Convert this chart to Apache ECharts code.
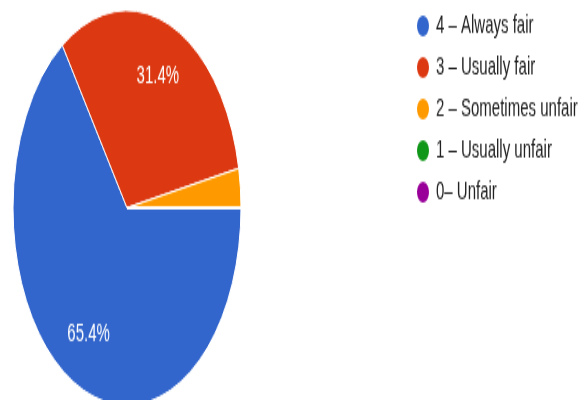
<!DOCTYPE html>
<html>
<head>
<meta charset="utf-8">
<script src="https://cdn.jsdelivr.net/npm/echarts@6/dist/echarts.min.js"></script>
<style>
  html, body { margin: 0; padding: 0; background: #fff; }
  #wrap { width: 582px; height: 400px; overflow: hidden; position: relative; }
  /* the reference picture is stretched vertically, so the chart is drawn flat and scaled */
  #pieChart { position: absolute; left: 0; top: 0; width: 582px; height: 231px; transform: scaleY(1.7316); transform-origin: 0 0; }
</style>
</head>
<body>
<div id="wrap"><div id="pieChart"></div></div>
<script>
// answers, in legend order
var categories = ["4 – Always fair", "3 – Usually fair", "2 – Sometimes unfair", "1 – Usually unfair", "0– Unfair"];
// share of responses (%)
var shares = [65.4, 31.4, 3.2, 0, 0];
var colors = ["#3366CC", "#DC3912", "#FF9900", "#109618", "#990099"];

var pieData = categories.map(function (name, i) {
  return { name: name, value: shares[i], itemStyle: { color: colors[i] } };
});

var myChart = echarts.init(document.getElementById("pieChart"));
var option = {
  animation: false,
  legend: {
    orient: "vertical",
    left: 410,
    top: 2,
    icon: "circle",
    itemWidth: 14,
    itemHeight: 14,
    itemGap: 8,
    data: categories,
    textStyle: {
      fontFamily: "Liberation Sans, Arial, sans-serif",
      fontSize: 15,
      lineHeight: 14,
      color: "#222222",
      padding: [0, 0, 0, 1]
    }
  },
  series: [{
    // the slices
    type: "pie",
    center: [127, 120],
    radius: [0, 114],
    startAngle: 0,
    clockwise: true,
    silent: true,
    label: { show: false },
    labelLine: { show: false },
    itemStyle: { borderColor: "#ffffff", borderWidth: 1 },
    data: pieData
  }, {
    // transparent ring, only to put the percent labels at the right distance
    type: "pie",
    center: [127, 120],
    radius: [45, 114],
    startAngle: 0,
    clockwise: true,
    silent: true,
    itemStyle: { color: "rgba(0,0,0,0)" },
    label: {
      show: true,
      position: "inside",
      color: "#ffffff",
      fontFamily: "Liberation Sans, Arial, sans-serif",
      fontSize: 15,
      formatter: function (p) {
        return p.percent < 5 ? "" : p.percent.toFixed(1) + "%";
      }
    },
    labelLine: { show: false },
    data: categories.map(function (name, i) {
      return { name: name, value: shares[i] };
    })
  }]
};
myChart.setOption(option);
</script>
</body>
</html>
